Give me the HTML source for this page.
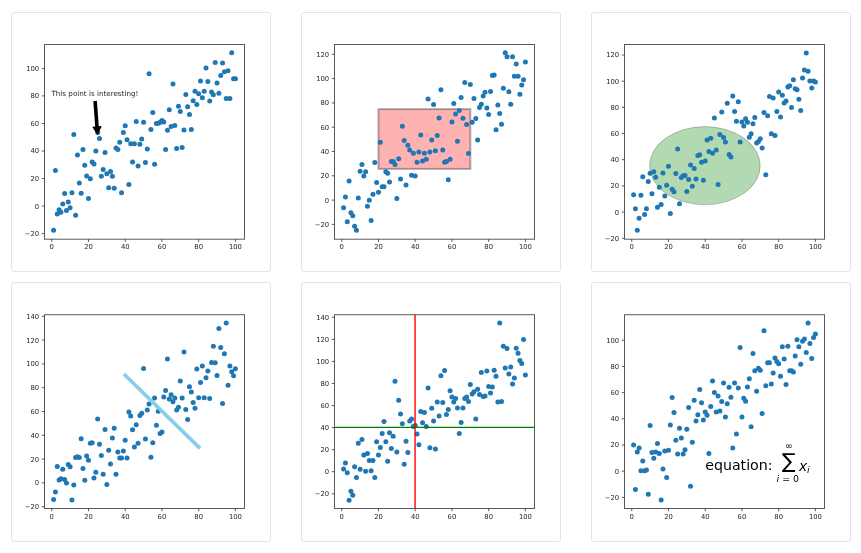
<!DOCTYPE html>
<html lang="en">
<head>
<meta charset="utf-8">
<title>Matplotlib annotations</title>
<style>
html,body{margin:0;padding:0;background:#fff;}
body{width:861px;height:553px;overflow:hidden;font-family:DejaVu Sans, Liberation Sans, sans-serif;}
svg{display:block;}
</style>
</head>
<body>
<svg width="861" height="553" viewBox="0 0 861 553">
<rect width="861" height="553" fill="#fff"/>
<g transform="translate(0,0)">
<rect x="11.5" y="12.5" width="259" height="259" rx="2.5" ry="2.5" fill="#fff" stroke="#e4e4e4"/>
<g fill="#1f77b4">
<circle cx="53.59" cy="230.3" r="2.5"/>
<circle cx="55.42" cy="170.6" r="2.5"/>
<circle cx="57.26" cy="214.0" r="2.5"/>
<circle cx="59.10" cy="209.8" r="2.5"/>
<circle cx="60.93" cy="212.2" r="2.5"/>
<circle cx="62.77" cy="204.1" r="2.5"/>
<circle cx="64.61" cy="193.6" r="2.5"/>
<circle cx="66.44" cy="210.4" r="2.5"/>
<circle cx="68.28" cy="201.9" r="2.5"/>
<circle cx="70.12" cy="207.7" r="2.5"/>
<circle cx="71.95" cy="192.7" r="2.5"/>
<circle cx="73.79" cy="134.4" r="2.5"/>
<circle cx="75.62" cy="215.3" r="2.5"/>
<circle cx="77.46" cy="155.0" r="2.5"/>
<circle cx="79.30" cy="183.1" r="2.5"/>
<circle cx="81.13" cy="193.2" r="2.5"/>
<circle cx="82.97" cy="149.6" r="2.5"/>
<circle cx="84.81" cy="165.3" r="2.5"/>
<circle cx="86.64" cy="176.0" r="2.5"/>
<circle cx="88.48" cy="198.6" r="2.5"/>
<circle cx="90.32" cy="178.7" r="2.5"/>
<circle cx="92.15" cy="162.1" r="2.5"/>
<circle cx="93.99" cy="164.1" r="2.5"/>
<circle cx="95.83" cy="150.9" r="2.5"/>
<circle cx="97.66" cy="132.4" r="2.5"/>
<circle cx="99.50" cy="138.4" r="2.5"/>
<circle cx="101.34" cy="176.2" r="2.5"/>
<circle cx="103.17" cy="169.5" r="2.5"/>
<circle cx="105.01" cy="152.5" r="2.5"/>
<circle cx="106.84" cy="173.8" r="2.5"/>
<circle cx="108.68" cy="187.8" r="2.5"/>
<circle cx="110.52" cy="171.5" r="2.5"/>
<circle cx="112.35" cy="176.2" r="2.5"/>
<circle cx="114.19" cy="188.3" r="2.5"/>
<circle cx="116.03" cy="148.0" r="2.5"/>
<circle cx="117.86" cy="149.4" r="2.5"/>
<circle cx="119.70" cy="142.2" r="2.5"/>
<circle cx="121.54" cy="192.7" r="2.5"/>
<circle cx="123.37" cy="132.4" r="2.5"/>
<circle cx="125.21" cy="125.7" r="2.5"/>
<circle cx="127.05" cy="139.8" r="2.5"/>
<circle cx="128.88" cy="184.5" r="2.5"/>
<circle cx="130.72" cy="143.8" r="2.5"/>
<circle cx="132.56" cy="162.1" r="2.5"/>
<circle cx="134.39" cy="143.8" r="2.5"/>
<circle cx="136.23" cy="121.4" r="2.5"/>
<circle cx="138.07" cy="165.9" r="2.5"/>
<circle cx="139.90" cy="144.2" r="2.5"/>
<circle cx="141.74" cy="138.9" r="2.5"/>
<circle cx="143.57" cy="122.3" r="2.5"/>
<circle cx="145.41" cy="162.6" r="2.5"/>
<circle cx="147.25" cy="149.0" r="2.5"/>
<circle cx="149.08" cy="73.8" r="2.5"/>
<circle cx="150.92" cy="129.5" r="2.5"/>
<circle cx="152.76" cy="112.5" r="2.5"/>
<circle cx="154.59" cy="164.2" r="2.5"/>
<circle cx="156.43" cy="123.4" r="2.5"/>
<circle cx="158.27" cy="123.2" r="2.5"/>
<circle cx="160.10" cy="122.3" r="2.5"/>
<circle cx="161.94" cy="120.5" r="2.5"/>
<circle cx="163.78" cy="121.9" r="2.5"/>
<circle cx="165.61" cy="149.4" r="2.5"/>
<circle cx="167.45" cy="130.2" r="2.5"/>
<circle cx="169.29" cy="109.8" r="2.5"/>
<circle cx="171.12" cy="126.6" r="2.5"/>
<circle cx="172.96" cy="84.1" r="2.5"/>
<circle cx="174.80" cy="125.4" r="2.5"/>
<circle cx="176.63" cy="148.5" r="2.5"/>
<circle cx="178.47" cy="106.2" r="2.5"/>
<circle cx="180.31" cy="111.6" r="2.5"/>
<circle cx="182.14" cy="147.6" r="2.5"/>
<circle cx="183.98" cy="130.1" r="2.5"/>
<circle cx="185.81" cy="94.6" r="2.5"/>
<circle cx="187.65" cy="106.7" r="2.5"/>
<circle cx="189.49" cy="114.5" r="2.5"/>
<circle cx="191.32" cy="129.5" r="2.5"/>
<circle cx="193.16" cy="100.8" r="2.5"/>
<circle cx="195.00" cy="91.2" r="2.5"/>
<circle cx="196.83" cy="104.4" r="2.5"/>
<circle cx="198.67" cy="93.7" r="2.5"/>
<circle cx="200.51" cy="80.9" r="2.5"/>
<circle cx="202.34" cy="97.7" r="2.5"/>
<circle cx="204.18" cy="91.2" r="2.5"/>
<circle cx="206.02" cy="68.0" r="2.5"/>
<circle cx="207.85" cy="81.6" r="2.5"/>
<circle cx="209.69" cy="100.9" r="2.5"/>
<circle cx="211.53" cy="92.1" r="2.5"/>
<circle cx="213.36" cy="94.8" r="2.5"/>
<circle cx="215.20" cy="62.6" r="2.5"/>
<circle cx="217.03" cy="83.0" r="2.5"/>
<circle cx="218.87" cy="93.2" r="2.5"/>
<circle cx="220.71" cy="75.4" r="2.5"/>
<circle cx="222.54" cy="63.1" r="2.5"/>
<circle cx="224.38" cy="71.8" r="2.5"/>
<circle cx="226.22" cy="98.6" r="2.5"/>
<circle cx="228.05" cy="70.7" r="2.5"/>
<circle cx="229.89" cy="98.6" r="2.5"/>
<circle cx="231.73" cy="52.8" r="2.5"/>
<circle cx="233.56" cy="78.7" r="2.5"/>
<circle cx="235.40" cy="78.7" r="2.5"/>
</g>
<text x="51.4" y="95.7" font-family="DejaVu Sans, Liberation Sans, sans-serif" font-size="7.15" fill="#262626" textLength="87" lengthAdjust="spacingAndGlyphs">This point is interesting!</text>
<g transform="translate(95.1,101) rotate(-4.2)"><path d="M-1.8,0 L1.8,0 L1.8,25.4 L4.8,25.4 L0,34.3 L-4.8,25.4 L-1.8,25.4 Z" fill="#000"/></g>
<rect x="44.5" y="44.5" width="200.0" height="194.7" fill="none" stroke="#5a5a5a" stroke-width="1"/>
<g stroke="#333" stroke-width="0.8">
<line x1="51.75" y1="239.2" x2="51.75" y2="241.9"/>
<line x1="88.48" y1="239.2" x2="88.48" y2="241.9"/>
<line x1="125.21" y1="239.2" x2="125.21" y2="241.9"/>
<line x1="161.94" y1="239.2" x2="161.94" y2="241.9"/>
<line x1="198.67" y1="239.2" x2="198.67" y2="241.9"/>
<line x1="235.40" y1="239.2" x2="235.40" y2="241.9"/>
<line x1="41.8" y1="233.6" x2="44.5" y2="233.6"/>
<line x1="41.8" y1="206.1" x2="44.5" y2="206.1"/>
<line x1="41.8" y1="178.5" x2="44.5" y2="178.5"/>
<line x1="41.8" y1="151.0" x2="44.5" y2="151.0"/>
<line x1="41.8" y1="123.5" x2="44.5" y2="123.5"/>
<line x1="41.8" y1="95.9" x2="44.5" y2="95.9"/>
<line x1="41.8" y1="68.4" x2="44.5" y2="68.4"/>
</g>
<g font-family="DejaVu Sans, Liberation Sans, sans-serif" font-size="6.8" fill="#262626">
<text x="51.75" y="248.9" text-anchor="middle">0</text>
<text x="88.48" y="248.9" text-anchor="middle">20</text>
<text x="125.21" y="248.9" text-anchor="middle">40</text>
<text x="161.94" y="248.9" text-anchor="middle">60</text>
<text x="198.67" y="248.9" text-anchor="middle">80</text>
<text x="235.40" y="248.9" text-anchor="middle">100</text>
<text x="39.2" y="236.0" text-anchor="end">−20</text>
<text x="39.2" y="208.5" text-anchor="end">0</text>
<text x="39.2" y="180.9" text-anchor="end">20</text>
<text x="39.2" y="153.4" text-anchor="end">40</text>
<text x="39.2" y="125.9" text-anchor="end">60</text>
<text x="39.2" y="98.3" text-anchor="end">80</text>
<text x="39.2" y="70.8" text-anchor="end">100</text>
</g>
</g>
<g transform="translate(290,0)">
<rect x="11.5" y="12.5" width="259" height="259" rx="2.5" ry="2.5" fill="#fff" stroke="#e4e4e4"/>
<rect x="88.45" y="109.1" width="91.9" height="59.8" fill="#ff0000" fill-opacity="0.3" stroke="#000" stroke-opacity="0.3" stroke-width="2"/>
<g fill="#1f77b4">
<circle cx="53.59" cy="207.8" r="2.5"/>
<circle cx="55.42" cy="197.1" r="2.5"/>
<circle cx="57.26" cy="221.7" r="2.5"/>
<circle cx="59.10" cy="181.0" r="2.5"/>
<circle cx="60.93" cy="212.7" r="2.5"/>
<circle cx="62.77" cy="215.8" r="2.5"/>
<circle cx="64.61" cy="226.2" r="2.5"/>
<circle cx="66.44" cy="230.2" r="2.5"/>
<circle cx="68.28" cy="198.0" r="2.5"/>
<circle cx="70.12" cy="171.3" r="2.5"/>
<circle cx="71.95" cy="164.5" r="2.5"/>
<circle cx="73.79" cy="176.1" r="2.5"/>
<circle cx="75.62" cy="171.8" r="2.5"/>
<circle cx="77.46" cy="206.2" r="2.5"/>
<circle cx="79.30" cy="200.2" r="2.5"/>
<circle cx="81.13" cy="220.6" r="2.5"/>
<circle cx="82.97" cy="194.2" r="2.5"/>
<circle cx="84.81" cy="162.5" r="2.5"/>
<circle cx="86.64" cy="182.5" r="2.5"/>
<circle cx="88.48" cy="192.2" r="2.5"/>
<circle cx="90.32" cy="142.3" r="2.5"/>
<circle cx="92.15" cy="186.8" r="2.5"/>
<circle cx="93.99" cy="186.8" r="2.5"/>
<circle cx="95.83" cy="171.8" r="2.5"/>
<circle cx="97.66" cy="173.3" r="2.5"/>
<circle cx="99.50" cy="181.9" r="2.5"/>
<circle cx="101.34" cy="161.6" r="2.5"/>
<circle cx="103.17" cy="161.6" r="2.5"/>
<circle cx="105.01" cy="164.5" r="2.5"/>
<circle cx="106.84" cy="198.6" r="2.5"/>
<circle cx="108.68" cy="158.7" r="2.5"/>
<circle cx="110.52" cy="179.0" r="2.5"/>
<circle cx="112.35" cy="126.2" r="2.5"/>
<circle cx="114.19" cy="140.4" r="2.5"/>
<circle cx="116.03" cy="185.1" r="2.5"/>
<circle cx="117.86" cy="145.3" r="2.5"/>
<circle cx="119.70" cy="150.0" r="2.5"/>
<circle cx="121.54" cy="175.3" r="2.5"/>
<circle cx="123.37" cy="153.3" r="2.5"/>
<circle cx="125.21" cy="176.0" r="2.5"/>
<circle cx="127.05" cy="162.2" r="2.5"/>
<circle cx="128.88" cy="152.1" r="2.5"/>
<circle cx="130.72" cy="135.1" r="2.5"/>
<circle cx="132.56" cy="160.9" r="2.5"/>
<circle cx="134.39" cy="153.3" r="2.5"/>
<circle cx="136.23" cy="159.3" r="2.5"/>
<circle cx="138.07" cy="99.0" r="2.5"/>
<circle cx="139.90" cy="152.1" r="2.5"/>
<circle cx="141.74" cy="140.0" r="2.5"/>
<circle cx="143.57" cy="104.5" r="2.5"/>
<circle cx="145.41" cy="150.8" r="2.5"/>
<circle cx="147.25" cy="135.6" r="2.5"/>
<circle cx="149.08" cy="117.9" r="2.5"/>
<circle cx="150.92" cy="89.8" r="2.5"/>
<circle cx="152.76" cy="150.1" r="2.5"/>
<circle cx="154.59" cy="162.2" r="2.5"/>
<circle cx="156.43" cy="161.5" r="2.5"/>
<circle cx="158.27" cy="179.8" r="2.5"/>
<circle cx="160.10" cy="159.3" r="2.5"/>
<circle cx="161.94" cy="121.9" r="2.5"/>
<circle cx="163.78" cy="103.6" r="2.5"/>
<circle cx="165.61" cy="114.1" r="2.5"/>
<circle cx="167.45" cy="141.2" r="2.5"/>
<circle cx="169.29" cy="110.5" r="2.5"/>
<circle cx="171.12" cy="97.6" r="2.5"/>
<circle cx="172.96" cy="118.3" r="2.5"/>
<circle cx="174.80" cy="82.6" r="2.5"/>
<circle cx="176.63" cy="124.4" r="2.5"/>
<circle cx="178.47" cy="153.5" r="2.5"/>
<circle cx="180.31" cy="84.4" r="2.5"/>
<circle cx="182.14" cy="122.2" r="2.5"/>
<circle cx="183.98" cy="98.5" r="2.5"/>
<circle cx="185.81" cy="118.4" r="2.5"/>
<circle cx="187.65" cy="140.0" r="2.5"/>
<circle cx="189.49" cy="107.6" r="2.5"/>
<circle cx="191.32" cy="104.3" r="2.5"/>
<circle cx="193.16" cy="95.9" r="2.5"/>
<circle cx="195.00" cy="92.3" r="2.5"/>
<circle cx="196.83" cy="108.1" r="2.5"/>
<circle cx="198.67" cy="114.6" r="2.5"/>
<circle cx="200.51" cy="91.6" r="2.5"/>
<circle cx="202.34" cy="75.5" r="2.5"/>
<circle cx="204.18" cy="75.0" r="2.5"/>
<circle cx="206.02" cy="129.7" r="2.5"/>
<circle cx="207.85" cy="105.1" r="2.5"/>
<circle cx="209.69" cy="113.6" r="2.5"/>
<circle cx="211.53" cy="124.2" r="2.5"/>
<circle cx="213.36" cy="88.3" r="2.5"/>
<circle cx="215.20" cy="52.7" r="2.5"/>
<circle cx="217.03" cy="56.7" r="2.5"/>
<circle cx="218.87" cy="91.8" r="2.5"/>
<circle cx="220.71" cy="104.3" r="2.5"/>
<circle cx="222.54" cy="56.7" r="2.5"/>
<circle cx="224.38" cy="76.2" r="2.5"/>
<circle cx="226.22" cy="64.1" r="2.5"/>
<circle cx="228.05" cy="76.2" r="2.5"/>
<circle cx="229.89" cy="94.3" r="2.5"/>
<circle cx="231.73" cy="85.1" r="2.5"/>
<circle cx="233.56" cy="79.7" r="2.5"/>
<circle cx="235.40" cy="62.1" r="2.5"/>
</g>
<rect x="44.5" y="44.5" width="200.0" height="194.7" fill="none" stroke="#5a5a5a" stroke-width="1"/>
<g stroke="#333" stroke-width="0.8">
<line x1="51.75" y1="239.2" x2="51.75" y2="241.9"/>
<line x1="88.48" y1="239.2" x2="88.48" y2="241.9"/>
<line x1="125.21" y1="239.2" x2="125.21" y2="241.9"/>
<line x1="161.94" y1="239.2" x2="161.94" y2="241.9"/>
<line x1="198.67" y1="239.2" x2="198.67" y2="241.9"/>
<line x1="235.40" y1="239.2" x2="235.40" y2="241.9"/>
<line x1="41.8" y1="224.4" x2="44.5" y2="224.4"/>
<line x1="41.8" y1="200.1" x2="44.5" y2="200.1"/>
<line x1="41.8" y1="175.8" x2="44.5" y2="175.8"/>
<line x1="41.8" y1="151.5" x2="44.5" y2="151.5"/>
<line x1="41.8" y1="127.2" x2="44.5" y2="127.2"/>
<line x1="41.8" y1="102.9" x2="44.5" y2="102.9"/>
<line x1="41.8" y1="78.6" x2="44.5" y2="78.6"/>
<line x1="41.8" y1="54.3" x2="44.5" y2="54.3"/>
</g>
<g font-family="DejaVu Sans, Liberation Sans, sans-serif" font-size="6.8" fill="#262626">
<text x="51.75" y="248.9" text-anchor="middle">0</text>
<text x="88.48" y="248.9" text-anchor="middle">20</text>
<text x="125.21" y="248.9" text-anchor="middle">40</text>
<text x="161.94" y="248.9" text-anchor="middle">60</text>
<text x="198.67" y="248.9" text-anchor="middle">80</text>
<text x="235.40" y="248.9" text-anchor="middle">100</text>
<text x="39.2" y="226.8" text-anchor="end">−20</text>
<text x="39.2" y="202.5" text-anchor="end">0</text>
<text x="39.2" y="178.2" text-anchor="end">20</text>
<text x="39.2" y="153.9" text-anchor="end">40</text>
<text x="39.2" y="129.6" text-anchor="end">60</text>
<text x="39.2" y="105.3" text-anchor="end">80</text>
<text x="39.2" y="81.0" text-anchor="end">100</text>
<text x="39.2" y="56.7" text-anchor="end">120</text>
</g>
</g>
<g transform="translate(580,0)">
<rect x="11.5" y="12.5" width="259" height="259" rx="2.5" ry="2.5" fill="#fff" stroke="#e4e4e4"/>
<ellipse cx="124.9" cy="165.7" rx="55.3" ry="39.1" fill="#008000" fill-opacity="0.3" stroke="#000" stroke-opacity="0.3" stroke-width="0.7"/>
<g fill="#1f77b4">
<circle cx="53.59" cy="194.8" r="2.5"/>
<circle cx="55.42" cy="208.7" r="2.5"/>
<circle cx="57.26" cy="230.2" r="2.5"/>
<circle cx="59.10" cy="218.3" r="2.5"/>
<circle cx="60.93" cy="195.3" r="2.5"/>
<circle cx="62.77" cy="176.7" r="2.5"/>
<circle cx="64.61" cy="214.5" r="2.5"/>
<circle cx="66.44" cy="208.7" r="2.5"/>
<circle cx="68.28" cy="181.4" r="2.5"/>
<circle cx="70.12" cy="173.3" r="2.5"/>
<circle cx="71.95" cy="193.7" r="2.5"/>
<circle cx="73.79" cy="171.8" r="2.5"/>
<circle cx="75.62" cy="177.2" r="2.5"/>
<circle cx="77.46" cy="207.3" r="2.5"/>
<circle cx="79.30" cy="187.2" r="2.5"/>
<circle cx="81.13" cy="204.4" r="2.5"/>
<circle cx="82.97" cy="172.9" r="2.5"/>
<circle cx="84.81" cy="195.9" r="2.5"/>
<circle cx="86.64" cy="185.2" r="2.5"/>
<circle cx="88.48" cy="166.3" r="2.5"/>
<circle cx="90.32" cy="213.6" r="2.5"/>
<circle cx="92.15" cy="189.2" r="2.5"/>
<circle cx="93.99" cy="191.7" r="2.5"/>
<circle cx="95.83" cy="173.6" r="2.5"/>
<circle cx="97.66" cy="149.1" r="2.5"/>
<circle cx="99.50" cy="203.8" r="2.5"/>
<circle cx="101.34" cy="177.6" r="2.5"/>
<circle cx="103.17" cy="175.8" r="2.5"/>
<circle cx="105.01" cy="175.4" r="2.5"/>
<circle cx="106.84" cy="191.5" r="2.5"/>
<circle cx="108.68" cy="179.6" r="2.5"/>
<circle cx="110.52" cy="165.0" r="2.5"/>
<circle cx="112.35" cy="186.3" r="2.5"/>
<circle cx="114.19" cy="168.5" r="2.5"/>
<circle cx="116.03" cy="179.0" r="2.5"/>
<circle cx="117.86" cy="155.5" r="2.5"/>
<circle cx="119.70" cy="154.7" r="2.5"/>
<circle cx="121.54" cy="162.3" r="2.5"/>
<circle cx="123.37" cy="180.3" r="2.5"/>
<circle cx="125.21" cy="160.9" r="2.5"/>
<circle cx="127.05" cy="140.1" r="2.5"/>
<circle cx="128.88" cy="151.4" r="2.5"/>
<circle cx="130.72" cy="138.2" r="2.5"/>
<circle cx="132.56" cy="153.2" r="2.5"/>
<circle cx="134.39" cy="117.9" r="2.5"/>
<circle cx="136.23" cy="150.1" r="2.5"/>
<circle cx="138.07" cy="184.5" r="2.5"/>
<circle cx="139.90" cy="134.4" r="2.5"/>
<circle cx="141.74" cy="112.1" r="2.5"/>
<circle cx="143.57" cy="137.4" r="2.5"/>
<circle cx="145.41" cy="142.1" r="2.5"/>
<circle cx="147.25" cy="103.3" r="2.5"/>
<circle cx="149.08" cy="154.6" r="2.5"/>
<circle cx="150.92" cy="157.1" r="2.5"/>
<circle cx="152.76" cy="95.9" r="2.5"/>
<circle cx="154.59" cy="111.6" r="2.5"/>
<circle cx="156.43" cy="121.3" r="2.5"/>
<circle cx="158.27" cy="101.8" r="2.5"/>
<circle cx="160.10" cy="142.1" r="2.5"/>
<circle cx="161.94" cy="121.9" r="2.5"/>
<circle cx="163.78" cy="126.0" r="2.5"/>
<circle cx="165.61" cy="118.8" r="2.5"/>
<circle cx="167.45" cy="122.2" r="2.5"/>
<circle cx="169.29" cy="137.3" r="2.5"/>
<circle cx="171.12" cy="133.8" r="2.5"/>
<circle cx="172.96" cy="123.7" r="2.5"/>
<circle cx="174.80" cy="117.4" r="2.5"/>
<circle cx="176.63" cy="143.0" r="2.5"/>
<circle cx="178.47" cy="141.6" r="2.5"/>
<circle cx="180.31" cy="138.7" r="2.5"/>
<circle cx="182.14" cy="148.1" r="2.5"/>
<circle cx="183.98" cy="112.5" r="2.5"/>
<circle cx="185.81" cy="174.7" r="2.5"/>
<circle cx="187.65" cy="115.7" r="2.5"/>
<circle cx="189.49" cy="96.5" r="2.5"/>
<circle cx="191.32" cy="133.8" r="2.5"/>
<circle cx="193.16" cy="98.1" r="2.5"/>
<circle cx="195.00" cy="135.6" r="2.5"/>
<circle cx="196.83" cy="111.4" r="2.5"/>
<circle cx="198.67" cy="92.1" r="2.5"/>
<circle cx="200.51" cy="117.0" r="2.5"/>
<circle cx="202.34" cy="95.2" r="2.5"/>
<circle cx="204.18" cy="103.1" r="2.5"/>
<circle cx="206.02" cy="101.1" r="2.5"/>
<circle cx="207.85" cy="87.1" r="2.5"/>
<circle cx="209.69" cy="85.8" r="2.5"/>
<circle cx="211.53" cy="107.6" r="2.5"/>
<circle cx="213.36" cy="79.7" r="2.5"/>
<circle cx="215.20" cy="88.7" r="2.5"/>
<circle cx="217.03" cy="89.8" r="2.5"/>
<circle cx="218.87" cy="99.2" r="2.5"/>
<circle cx="220.71" cy="110.4" r="2.5"/>
<circle cx="222.54" cy="77.9" r="2.5"/>
<circle cx="224.38" cy="70.1" r="2.5"/>
<circle cx="226.22" cy="52.9" r="2.5"/>
<circle cx="228.05" cy="71.3" r="2.5"/>
<circle cx="229.89" cy="80.9" r="2.5"/>
<circle cx="231.73" cy="88.0" r="2.5"/>
<circle cx="233.56" cy="80.9" r="2.5"/>
<circle cx="235.40" cy="82.0" r="2.5"/>
</g>
<rect x="44.5" y="44.5" width="200.0" height="194.7" fill="none" stroke="#5a5a5a" stroke-width="1"/>
<g stroke="#333" stroke-width="0.8">
<line x1="51.75" y1="239.2" x2="51.75" y2="241.9"/>
<line x1="88.48" y1="239.2" x2="88.48" y2="241.9"/>
<line x1="125.21" y1="239.2" x2="125.21" y2="241.9"/>
<line x1="161.94" y1="239.2" x2="161.94" y2="241.9"/>
<line x1="198.67" y1="239.2" x2="198.67" y2="241.9"/>
<line x1="235.40" y1="239.2" x2="235.40" y2="241.9"/>
<line x1="41.8" y1="238.3" x2="44.5" y2="238.3"/>
<line x1="41.8" y1="212.1" x2="44.5" y2="212.1"/>
<line x1="41.8" y1="185.9" x2="44.5" y2="185.9"/>
<line x1="41.8" y1="159.7" x2="44.5" y2="159.7"/>
<line x1="41.8" y1="133.5" x2="44.5" y2="133.5"/>
<line x1="41.8" y1="107.3" x2="44.5" y2="107.3"/>
<line x1="41.8" y1="81.2" x2="44.5" y2="81.2"/>
<line x1="41.8" y1="55.0" x2="44.5" y2="55.0"/>
</g>
<g font-family="DejaVu Sans, Liberation Sans, sans-serif" font-size="6.8" fill="#262626">
<text x="51.75" y="248.9" text-anchor="middle">0</text>
<text x="88.48" y="248.9" text-anchor="middle">20</text>
<text x="125.21" y="248.9" text-anchor="middle">40</text>
<text x="161.94" y="248.9" text-anchor="middle">60</text>
<text x="198.67" y="248.9" text-anchor="middle">80</text>
<text x="235.40" y="248.9" text-anchor="middle">100</text>
<text x="39.2" y="240.7" text-anchor="end">−20</text>
<text x="39.2" y="214.5" text-anchor="end">0</text>
<text x="39.2" y="188.3" text-anchor="end">20</text>
<text x="39.2" y="162.1" text-anchor="end">40</text>
<text x="39.2" y="135.9" text-anchor="end">60</text>
<text x="39.2" y="109.8" text-anchor="end">80</text>
<text x="39.2" y="83.6" text-anchor="end">100</text>
<text x="39.2" y="57.4" text-anchor="end">120</text>
</g>
</g>
<g transform="translate(0,270)">
<rect x="11.5" y="12.5" width="259" height="259" rx="2.5" ry="2.5" fill="#fff" stroke="#e4e4e4"/>
<g fill="#1f77b4">
<circle cx="53.59" cy="229.5" r="2.5"/>
<circle cx="55.42" cy="222.1" r="2.5"/>
<circle cx="57.26" cy="196.4" r="2.5"/>
<circle cx="59.10" cy="210.1" r="2.5"/>
<circle cx="60.93" cy="208.7" r="2.5"/>
<circle cx="62.77" cy="199.3" r="2.5"/>
<circle cx="64.61" cy="209.4" r="2.5"/>
<circle cx="66.44" cy="212.9" r="2.5"/>
<circle cx="68.28" cy="194.4" r="2.5"/>
<circle cx="70.12" cy="196.8" r="2.5"/>
<circle cx="71.95" cy="230.0" r="2.5"/>
<circle cx="73.79" cy="215.0" r="2.5"/>
<circle cx="75.62" cy="187.5" r="2.5"/>
<circle cx="77.46" cy="186.8" r="2.5"/>
<circle cx="79.30" cy="187.5" r="2.5"/>
<circle cx="81.13" cy="168.8" r="2.5"/>
<circle cx="82.97" cy="198.4" r="2.5"/>
<circle cx="84.81" cy="210.3" r="2.5"/>
<circle cx="86.64" cy="186.1" r="2.5"/>
<circle cx="88.48" cy="190.2" r="2.5"/>
<circle cx="90.32" cy="173.3" r="2.5"/>
<circle cx="92.15" cy="172.7" r="2.5"/>
<circle cx="93.99" cy="208.0" r="2.5"/>
<circle cx="95.83" cy="202.2" r="2.5"/>
<circle cx="97.66" cy="148.9" r="2.5"/>
<circle cx="99.50" cy="174.3" r="2.5"/>
<circle cx="101.34" cy="185.5" r="2.5"/>
<circle cx="103.17" cy="204.2" r="2.5"/>
<circle cx="105.01" cy="159.6" r="2.5"/>
<circle cx="106.84" cy="214.5" r="2.5"/>
<circle cx="108.68" cy="180.3" r="2.5"/>
<circle cx="110.52" cy="194.1" r="2.5"/>
<circle cx="112.35" cy="167.9" r="2.5"/>
<circle cx="114.19" cy="158.2" r="2.5"/>
<circle cx="116.03" cy="204.2" r="2.5"/>
<circle cx="117.86" cy="181.9" r="2.5"/>
<circle cx="119.70" cy="188.1" r="2.5"/>
<circle cx="121.54" cy="188.1" r="2.5"/>
<circle cx="123.37" cy="180.9" r="2.5"/>
<circle cx="125.21" cy="170.2" r="2.5"/>
<circle cx="127.05" cy="188.1" r="2.5"/>
<circle cx="128.88" cy="142.1" r="2.5"/>
<circle cx="130.72" cy="145.9" r="2.5"/>
<circle cx="132.56" cy="159.8" r="2.5"/>
<circle cx="134.39" cy="177.0" r="2.5"/>
<circle cx="136.23" cy="154.7" r="2.5"/>
<circle cx="138.07" cy="173.3" r="2.5"/>
<circle cx="139.90" cy="145.6" r="2.5"/>
<circle cx="141.74" cy="143.3" r="2.5"/>
<circle cx="143.57" cy="98.5" r="2.5"/>
<circle cx="145.41" cy="169.0" r="2.5"/>
<circle cx="147.25" cy="140.0" r="2.5"/>
<circle cx="149.08" cy="134.0" r="2.5"/>
<circle cx="150.92" cy="187.3" r="2.5"/>
<circle cx="152.76" cy="172.7" r="2.5"/>
<circle cx="154.59" cy="128.0" r="2.5"/>
<circle cx="156.43" cy="155.3" r="2.5"/>
<circle cx="158.27" cy="141.2" r="2.5"/>
<circle cx="160.10" cy="163.5" r="2.5"/>
<circle cx="161.94" cy="162.0" r="2.5"/>
<circle cx="163.78" cy="127.1" r="2.5"/>
<circle cx="165.61" cy="120.4" r="2.5"/>
<circle cx="167.45" cy="88.9" r="2.5"/>
<circle cx="169.29" cy="128.9" r="2.5"/>
<circle cx="171.12" cy="124.8" r="2.5"/>
<circle cx="172.96" cy="131.8" r="2.5"/>
<circle cx="174.80" cy="128.0" r="2.5"/>
<circle cx="176.63" cy="140.0" r="2.5"/>
<circle cx="178.47" cy="137.2" r="2.5"/>
<circle cx="180.31" cy="111.1" r="2.5"/>
<circle cx="182.14" cy="128.0" r="2.5"/>
<circle cx="183.98" cy="82.1" r="2.5"/>
<circle cx="185.81" cy="139.4" r="2.5"/>
<circle cx="187.65" cy="149.4" r="2.5"/>
<circle cx="189.49" cy="116.8" r="2.5"/>
<circle cx="191.32" cy="121.9" r="2.5"/>
<circle cx="193.16" cy="132.6" r="2.5"/>
<circle cx="195.00" cy="138.3" r="2.5"/>
<circle cx="196.83" cy="99.1" r="2.5"/>
<circle cx="198.67" cy="127.7" r="2.5"/>
<circle cx="200.51" cy="112.5" r="2.5"/>
<circle cx="202.34" cy="96.0" r="2.5"/>
<circle cx="204.18" cy="127.7" r="2.5"/>
<circle cx="206.02" cy="107.7" r="2.5"/>
<circle cx="207.85" cy="101.0" r="2.5"/>
<circle cx="209.69" cy="128.6" r="2.5"/>
<circle cx="211.53" cy="92.4" r="2.5"/>
<circle cx="213.36" cy="76.3" r="2.5"/>
<circle cx="215.20" cy="92.8" r="2.5"/>
<circle cx="217.03" cy="105.6" r="2.5"/>
<circle cx="218.87" cy="58.4" r="2.5"/>
<circle cx="220.71" cy="77.4" r="2.5"/>
<circle cx="222.54" cy="133.4" r="2.5"/>
<circle cx="224.38" cy="83.7" r="2.5"/>
<circle cx="226.22" cy="53.0" r="2.5"/>
<circle cx="228.05" cy="115.3" r="2.5"/>
<circle cx="229.89" cy="96.0" r="2.5"/>
<circle cx="231.73" cy="101.7" r="2.5"/>
<circle cx="233.56" cy="105.7" r="2.5"/>
<circle cx="235.40" cy="98.7" r="2.5"/>
</g>
<line x1="125.2" y1="105.3" x2="198.7" y2="177.1" stroke="#87ceeb" stroke-width="3.7" stroke-linecap="square"/>
<rect x="44.5" y="44.7" width="200.0" height="193.8" fill="none" stroke="#5a5a5a" stroke-width="1"/>
<g stroke="#333" stroke-width="0.8">
<line x1="51.75" y1="238.5" x2="51.75" y2="241.2"/>
<line x1="88.48" y1="238.5" x2="88.48" y2="241.2"/>
<line x1="125.21" y1="238.5" x2="125.21" y2="241.2"/>
<line x1="161.94" y1="238.5" x2="161.94" y2="241.2"/>
<line x1="198.67" y1="238.5" x2="198.67" y2="241.2"/>
<line x1="235.40" y1="238.5" x2="235.40" y2="241.2"/>
<line x1="41.8" y1="236.7" x2="44.5" y2="236.7"/>
<line x1="41.8" y1="212.9" x2="44.5" y2="212.9"/>
<line x1="41.8" y1="189.1" x2="44.5" y2="189.1"/>
<line x1="41.8" y1="165.3" x2="44.5" y2="165.3"/>
<line x1="41.8" y1="141.5" x2="44.5" y2="141.5"/>
<line x1="41.8" y1="117.7" x2="44.5" y2="117.7"/>
<line x1="41.8" y1="93.9" x2="44.5" y2="93.9"/>
<line x1="41.8" y1="70.1" x2="44.5" y2="70.1"/>
<line x1="41.8" y1="46.3" x2="44.5" y2="46.3"/>
</g>
<g font-family="DejaVu Sans, Liberation Sans, sans-serif" font-size="6.8" fill="#262626">
<text x="51.75" y="248.9" text-anchor="middle">0</text>
<text x="88.48" y="248.9" text-anchor="middle">20</text>
<text x="125.21" y="248.9" text-anchor="middle">40</text>
<text x="161.94" y="248.9" text-anchor="middle">60</text>
<text x="198.67" y="248.9" text-anchor="middle">80</text>
<text x="235.40" y="248.9" text-anchor="middle">100</text>
<text x="39.2" y="239.1" text-anchor="end">−20</text>
<text x="39.2" y="215.3" text-anchor="end">0</text>
<text x="39.2" y="191.5" text-anchor="end">20</text>
<text x="39.2" y="167.7" text-anchor="end">40</text>
<text x="39.2" y="143.9" text-anchor="end">60</text>
<text x="39.2" y="120.1" text-anchor="end">80</text>
<text x="39.2" y="96.3" text-anchor="end">100</text>
<text x="39.2" y="72.5" text-anchor="end">120</text>
<text x="39.2" y="48.7" text-anchor="end">140</text>
</g>
</g>
<g transform="translate(290,270)">
<rect x="11.5" y="12.5" width="259" height="259" rx="2.5" ry="2.5" fill="#fff" stroke="#e4e4e4"/>
<g fill="#1f77b4">
<circle cx="53.59" cy="198.9" r="2.5"/>
<circle cx="55.42" cy="193.0" r="2.5"/>
<circle cx="57.26" cy="202.7" r="2.5"/>
<circle cx="59.10" cy="230.2" r="2.5"/>
<circle cx="60.93" cy="221.2" r="2.5"/>
<circle cx="62.77" cy="225.3" r="2.5"/>
<circle cx="64.61" cy="196.8" r="2.5"/>
<circle cx="66.44" cy="207.6" r="2.5"/>
<circle cx="68.28" cy="173.2" r="2.5"/>
<circle cx="70.12" cy="199.3" r="2.5"/>
<circle cx="71.95" cy="169.4" r="2.5"/>
<circle cx="73.79" cy="185.0" r="2.5"/>
<circle cx="75.62" cy="201.3" r="2.5"/>
<circle cx="77.46" cy="183.5" r="2.5"/>
<circle cx="79.30" cy="190.4" r="2.5"/>
<circle cx="81.13" cy="200.7" r="2.5"/>
<circle cx="82.97" cy="190.4" r="2.5"/>
<circle cx="84.81" cy="207.6" r="2.5"/>
<circle cx="86.64" cy="171.8" r="2.5"/>
<circle cx="88.48" cy="184.9" r="2.5"/>
<circle cx="90.32" cy="177.6" r="2.5"/>
<circle cx="92.15" cy="163.6" r="2.5"/>
<circle cx="93.99" cy="151.5" r="2.5"/>
<circle cx="95.83" cy="171.8" r="2.5"/>
<circle cx="97.66" cy="191.2" r="2.5"/>
<circle cx="99.50" cy="162.7" r="2.5"/>
<circle cx="101.34" cy="178.6" r="2.5"/>
<circle cx="103.17" cy="166.3" r="2.5"/>
<circle cx="105.01" cy="111.2" r="2.5"/>
<circle cx="106.84" cy="181.9" r="2.5"/>
<circle cx="108.68" cy="130.3" r="2.5"/>
<circle cx="110.52" cy="144.1" r="2.5"/>
<circle cx="112.35" cy="153.8" r="2.5"/>
<circle cx="114.19" cy="194.2" r="2.5"/>
<circle cx="116.03" cy="171.3" r="2.5"/>
<circle cx="117.86" cy="182.6" r="2.5"/>
<circle cx="119.70" cy="150.9" r="2.5"/>
<circle cx="121.54" cy="149.1" r="2.5"/>
<circle cx="123.37" cy="156.5" r="2.5"/>
<circle cx="125.21" cy="155.5" r="2.5"/>
<circle cx="127.05" cy="164.0" r="2.5"/>
<circle cx="128.88" cy="174.8" r="2.5"/>
<circle cx="130.72" cy="141.5" r="2.5"/>
<circle cx="132.56" cy="152.8" r="2.5"/>
<circle cx="134.39" cy="142.6" r="2.5"/>
<circle cx="136.23" cy="156.5" r="2.5"/>
<circle cx="138.07" cy="117.9" r="2.5"/>
<circle cx="139.90" cy="177.7" r="2.5"/>
<circle cx="141.74" cy="138.3" r="2.5"/>
<circle cx="143.57" cy="150.9" r="2.5"/>
<circle cx="145.41" cy="179.1" r="2.5"/>
<circle cx="147.25" cy="132.0" r="2.5"/>
<circle cx="149.08" cy="145.9" r="2.5"/>
<circle cx="150.92" cy="105.7" r="2.5"/>
<circle cx="152.76" cy="132.6" r="2.5"/>
<circle cx="154.59" cy="100.5" r="2.5"/>
<circle cx="156.43" cy="144.5" r="2.5"/>
<circle cx="158.27" cy="139.4" r="2.5"/>
<circle cx="160.10" cy="120.8" r="2.5"/>
<circle cx="161.94" cy="127.1" r="2.5"/>
<circle cx="163.78" cy="132.0" r="2.5"/>
<circle cx="165.61" cy="128.6" r="2.5"/>
<circle cx="167.45" cy="138.0" r="2.5"/>
<circle cx="169.29" cy="163.6" r="2.5"/>
<circle cx="171.12" cy="152.4" r="2.5"/>
<circle cx="172.96" cy="138.0" r="2.5"/>
<circle cx="174.80" cy="128.6" r="2.5"/>
<circle cx="176.63" cy="126.9" r="2.5"/>
<circle cx="178.47" cy="131.6" r="2.5"/>
<circle cx="180.31" cy="114.6" r="2.5"/>
<circle cx="182.14" cy="124.1" r="2.5"/>
<circle cx="183.98" cy="121.7" r="2.5"/>
<circle cx="185.81" cy="149.0" r="2.5"/>
<circle cx="187.65" cy="119.2" r="2.5"/>
<circle cx="189.49" cy="124.4" r="2.5"/>
<circle cx="191.32" cy="102.5" r="2.5"/>
<circle cx="193.16" cy="126.4" r="2.5"/>
<circle cx="195.00" cy="125.9" r="2.5"/>
<circle cx="196.83" cy="100.9" r="2.5"/>
<circle cx="198.67" cy="116.5" r="2.5"/>
<circle cx="200.51" cy="123.0" r="2.5"/>
<circle cx="202.34" cy="117.0" r="2.5"/>
<circle cx="204.18" cy="100.2" r="2.5"/>
<circle cx="206.02" cy="106.2" r="2.5"/>
<circle cx="207.85" cy="132.0" r="2.5"/>
<circle cx="209.69" cy="53.0" r="2.5"/>
<circle cx="211.53" cy="131.5" r="2.5"/>
<circle cx="213.36" cy="76.3" r="2.5"/>
<circle cx="215.20" cy="98.0" r="2.5"/>
<circle cx="217.03" cy="78.5" r="2.5"/>
<circle cx="218.87" cy="104.0" r="2.5"/>
<circle cx="220.71" cy="97.1" r="2.5"/>
<circle cx="222.54" cy="114.1" r="2.5"/>
<circle cx="224.38" cy="107.9" r="2.5"/>
<circle cx="226.22" cy="78.3" r="2.5"/>
<circle cx="228.05" cy="83.2" r="2.5"/>
<circle cx="229.89" cy="90.6" r="2.5"/>
<circle cx="231.73" cy="93.5" r="2.5"/>
<circle cx="233.56" cy="69.6" r="2.5"/>
<circle cx="235.40" cy="105.1" r="2.5"/>
</g>
<line x1="125.05" y1="44.7" x2="125.05" y2="238.5" stroke="#ff0000" stroke-width="1.4"/><line x1="44.5" y1="157.35" x2="244.5" y2="157.35" stroke="#008000" stroke-width="1.1"/>
<rect x="44.5" y="44.7" width="200.0" height="193.8" fill="none" stroke="#5a5a5a" stroke-width="1"/>
<g stroke="#333" stroke-width="0.8">
<line x1="51.75" y1="238.5" x2="51.75" y2="241.2"/>
<line x1="88.48" y1="238.5" x2="88.48" y2="241.2"/>
<line x1="125.21" y1="238.5" x2="125.21" y2="241.2"/>
<line x1="161.94" y1="238.5" x2="161.94" y2="241.2"/>
<line x1="198.67" y1="238.5" x2="198.67" y2="241.2"/>
<line x1="235.40" y1="238.5" x2="235.40" y2="241.2"/>
<line x1="41.8" y1="223.8" x2="44.5" y2="223.8"/>
<line x1="41.8" y1="201.7" x2="44.5" y2="201.7"/>
<line x1="41.8" y1="179.7" x2="44.5" y2="179.7"/>
<line x1="41.8" y1="157.6" x2="44.5" y2="157.6"/>
<line x1="41.8" y1="135.6" x2="44.5" y2="135.6"/>
<line x1="41.8" y1="113.5" x2="44.5" y2="113.5"/>
<line x1="41.8" y1="91.4" x2="44.5" y2="91.4"/>
<line x1="41.8" y1="69.4" x2="44.5" y2="69.4"/>
<line x1="41.8" y1="47.3" x2="44.5" y2="47.3"/>
</g>
<g font-family="DejaVu Sans, Liberation Sans, sans-serif" font-size="6.8" fill="#262626">
<text x="51.75" y="248.9" text-anchor="middle">0</text>
<text x="88.48" y="248.9" text-anchor="middle">20</text>
<text x="125.21" y="248.9" text-anchor="middle">40</text>
<text x="161.94" y="248.9" text-anchor="middle">60</text>
<text x="198.67" y="248.9" text-anchor="middle">80</text>
<text x="235.40" y="248.9" text-anchor="middle">100</text>
<text x="39.2" y="226.2" text-anchor="end">−20</text>
<text x="39.2" y="204.1" text-anchor="end">0</text>
<text x="39.2" y="182.1" text-anchor="end">20</text>
<text x="39.2" y="160.0" text-anchor="end">40</text>
<text x="39.2" y="138.0" text-anchor="end">60</text>
<text x="39.2" y="115.9" text-anchor="end">80</text>
<text x="39.2" y="93.8" text-anchor="end">100</text>
<text x="39.2" y="71.8" text-anchor="end">120</text>
<text x="39.2" y="49.7" text-anchor="end">140</text>
</g>
</g>
<g transform="translate(580,270)">
<rect x="11.5" y="12.5" width="259" height="259" rx="2.5" ry="2.5" fill="#fff" stroke="#e4e4e4"/>
<g fill="#1f77b4">
<circle cx="53.59" cy="174.9" r="2.5"/>
<circle cx="55.42" cy="219.4" r="2.5"/>
<circle cx="57.26" cy="181.9" r="2.5"/>
<circle cx="59.10" cy="178.1" r="2.5"/>
<circle cx="60.93" cy="200.7" r="2.5"/>
<circle cx="62.77" cy="191.0" r="2.5"/>
<circle cx="64.61" cy="200.7" r="2.5"/>
<circle cx="66.44" cy="200.0" r="2.5"/>
<circle cx="68.28" cy="224.2" r="2.5"/>
<circle cx="70.12" cy="155.5" r="2.5"/>
<circle cx="71.95" cy="182.5" r="2.5"/>
<circle cx="73.79" cy="188.3" r="2.5"/>
<circle cx="75.62" cy="182.1" r="2.5"/>
<circle cx="77.46" cy="173.6" r="2.5"/>
<circle cx="79.30" cy="183.6" r="2.5"/>
<circle cx="81.13" cy="230.0" r="2.5"/>
<circle cx="82.97" cy="198.9" r="2.5"/>
<circle cx="84.81" cy="180.9" r="2.5"/>
<circle cx="86.64" cy="207.6" r="2.5"/>
<circle cx="88.48" cy="180.3" r="2.5"/>
<circle cx="90.32" cy="154.9" r="2.5"/>
<circle cx="92.15" cy="127.6" r="2.5"/>
<circle cx="93.99" cy="142.6" r="2.5"/>
<circle cx="95.83" cy="170.2" r="2.5"/>
<circle cx="97.66" cy="183.9" r="2.5"/>
<circle cx="99.50" cy="158.2" r="2.5"/>
<circle cx="101.34" cy="167.9" r="2.5"/>
<circle cx="103.17" cy="183.9" r="2.5"/>
<circle cx="105.01" cy="179.8" r="2.5"/>
<circle cx="106.84" cy="159.3" r="2.5"/>
<circle cx="108.68" cy="137.4" r="2.5"/>
<circle cx="110.52" cy="216.3" r="2.5"/>
<circle cx="112.35" cy="172.3" r="2.5"/>
<circle cx="114.19" cy="130.3" r="2.5"/>
<circle cx="116.03" cy="150.9" r="2.5"/>
<circle cx="117.86" cy="144.8" r="2.5"/>
<circle cx="119.70" cy="119.5" r="2.5"/>
<circle cx="121.54" cy="132.7" r="2.5"/>
<circle cx="123.37" cy="150.1" r="2.5"/>
<circle cx="125.21" cy="141.9" r="2.5"/>
<circle cx="127.05" cy="145.2" r="2.5"/>
<circle cx="128.88" cy="183.4" r="2.5"/>
<circle cx="130.72" cy="136.4" r="2.5"/>
<circle cx="132.56" cy="111.1" r="2.5"/>
<circle cx="134.39" cy="122.4" r="2.5"/>
<circle cx="136.23" cy="141.9" r="2.5"/>
<circle cx="138.07" cy="126.0" r="2.5"/>
<circle cx="139.90" cy="141.1" r="2.5"/>
<circle cx="141.74" cy="131.6" r="2.5"/>
<circle cx="143.57" cy="113.1" r="2.5"/>
<circle cx="145.41" cy="147.1" r="2.5"/>
<circle cx="147.25" cy="133.8" r="2.5"/>
<circle cx="149.08" cy="117.2" r="2.5"/>
<circle cx="150.92" cy="127.2" r="2.5"/>
<circle cx="152.76" cy="178.1" r="2.5"/>
<circle cx="154.59" cy="113.0" r="2.5"/>
<circle cx="156.43" cy="164.0" r="2.5"/>
<circle cx="158.27" cy="117.9" r="2.5"/>
<circle cx="160.10" cy="77.6" r="2.5"/>
<circle cx="161.94" cy="147.0" r="2.5"/>
<circle cx="163.78" cy="128.2" r="2.5"/>
<circle cx="165.61" cy="131.3" r="2.5"/>
<circle cx="167.45" cy="117.0" r="2.5"/>
<circle cx="169.29" cy="108.8" r="2.5"/>
<circle cx="171.12" cy="156.8" r="2.5"/>
<circle cx="172.96" cy="83.5" r="2.5"/>
<circle cx="174.80" cy="100.7" r="2.5"/>
<circle cx="176.63" cy="121.2" r="2.5"/>
<circle cx="178.47" cy="98.2" r="2.5"/>
<circle cx="180.31" cy="100.3" r="2.5"/>
<circle cx="182.14" cy="143.6" r="2.5"/>
<circle cx="183.98" cy="60.7" r="2.5"/>
<circle cx="185.81" cy="115.7" r="2.5"/>
<circle cx="187.65" cy="92.8" r="2.5"/>
<circle cx="189.49" cy="92.8" r="2.5"/>
<circle cx="191.32" cy="114.1" r="2.5"/>
<circle cx="193.16" cy="102.9" r="2.5"/>
<circle cx="195.00" cy="88.1" r="2.5"/>
<circle cx="196.83" cy="91.5" r="2.5"/>
<circle cx="198.67" cy="93.8" r="2.5"/>
<circle cx="200.51" cy="106.3" r="2.5"/>
<circle cx="202.34" cy="76.8" r="2.5"/>
<circle cx="204.18" cy="88.9" r="2.5"/>
<circle cx="206.02" cy="114.4" r="2.5"/>
<circle cx="207.85" cy="76.3" r="2.5"/>
<circle cx="209.69" cy="100.7" r="2.5"/>
<circle cx="211.53" cy="100.7" r="2.5"/>
<circle cx="213.36" cy="102.0" r="2.5"/>
<circle cx="215.20" cy="85.9" r="2.5"/>
<circle cx="217.03" cy="69.8" r="2.5"/>
<circle cx="218.87" cy="76.8" r="2.5"/>
<circle cx="220.71" cy="94.2" r="2.5"/>
<circle cx="222.54" cy="71.2" r="2.5"/>
<circle cx="224.38" cy="69.1" r="2.5"/>
<circle cx="226.22" cy="82.6" r="2.5"/>
<circle cx="228.05" cy="53.0" r="2.5"/>
<circle cx="229.89" cy="73.4" r="2.5"/>
<circle cx="231.73" cy="88.4" r="2.5"/>
<circle cx="233.56" cy="67.4" r="2.5"/>
<circle cx="235.40" cy="64.0" r="2.5"/>
</g>
<g font-family="DejaVu Sans, Liberation Sans, sans-serif" fill="#000">
<text x="125.2" y="200" font-size="13.8" textLength="67.4" lengthAdjust="spacingAndGlyphs">equation:</text>
<text x="201.9" y="197.9" font-size="20.3">∑</text>
<text x="208.9" y="178.9" font-size="9.4" text-anchor="middle">∞</text>
<text x="207.8" y="212.2" font-size="9.4" text-anchor="middle"><tspan font-style="italic">i</tspan> = 0</text>
<text x="219.1" y="200.5" font-size="13.8" font-style="italic">x</text>
<text x="227" y="202.6" font-size="9.4" font-style="italic">i</text>
</g>
<rect x="44.5" y="44.7" width="200.0" height="193.8" fill="none" stroke="#5a5a5a" stroke-width="1"/>
<g stroke="#333" stroke-width="0.8">
<line x1="51.75" y1="238.5" x2="51.75" y2="241.2"/>
<line x1="88.48" y1="238.5" x2="88.48" y2="241.2"/>
<line x1="125.21" y1="238.5" x2="125.21" y2="241.2"/>
<line x1="161.94" y1="238.5" x2="161.94" y2="241.2"/>
<line x1="198.67" y1="238.5" x2="198.67" y2="241.2"/>
<line x1="235.40" y1="238.5" x2="235.40" y2="241.2"/>
<line x1="41.8" y1="227.4" x2="44.5" y2="227.4"/>
<line x1="41.8" y1="201.2" x2="44.5" y2="201.2"/>
<line x1="41.8" y1="175.0" x2="44.5" y2="175.0"/>
<line x1="41.8" y1="148.8" x2="44.5" y2="148.8"/>
<line x1="41.8" y1="122.6" x2="44.5" y2="122.6"/>
<line x1="41.8" y1="96.4" x2="44.5" y2="96.4"/>
<line x1="41.8" y1="70.2" x2="44.5" y2="70.2"/>
</g>
<g font-family="DejaVu Sans, Liberation Sans, sans-serif" font-size="6.8" fill="#262626">
<text x="51.75" y="248.9" text-anchor="middle">0</text>
<text x="88.48" y="248.9" text-anchor="middle">20</text>
<text x="125.21" y="248.9" text-anchor="middle">40</text>
<text x="161.94" y="248.9" text-anchor="middle">60</text>
<text x="198.67" y="248.9" text-anchor="middle">80</text>
<text x="235.40" y="248.9" text-anchor="middle">100</text>
<text x="39.2" y="229.8" text-anchor="end">−20</text>
<text x="39.2" y="203.6" text-anchor="end">0</text>
<text x="39.2" y="177.4" text-anchor="end">20</text>
<text x="39.2" y="151.2" text-anchor="end">40</text>
<text x="39.2" y="125.0" text-anchor="end">60</text>
<text x="39.2" y="98.8" text-anchor="end">80</text>
<text x="39.2" y="72.6" text-anchor="end">100</text>
</g>
</g>
</svg>
</body>
</html>
